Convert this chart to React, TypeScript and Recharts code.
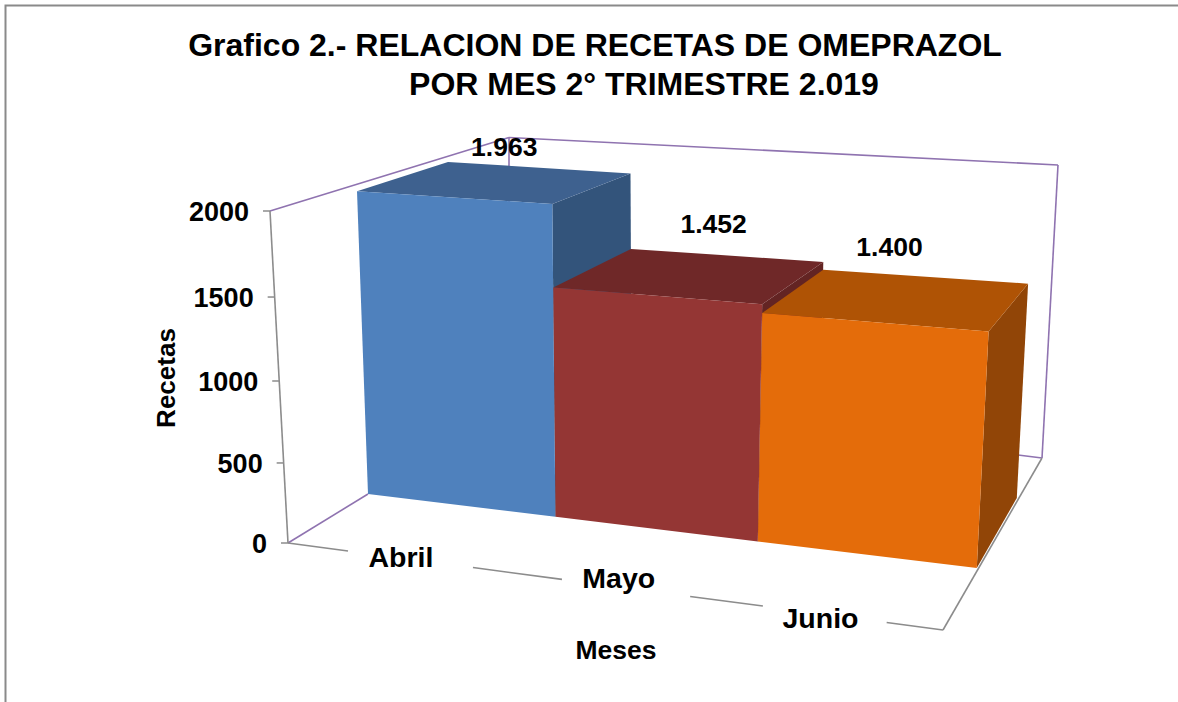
import React from "react";
import { BarChart, Bar, XAxis, YAxis, LabelList, Customized } from "recharts";

const months = ["Abril", "Mayo", "Junio"];
const recetas = [1963, 1452, 1400];
const yTicks = [0, 500, 1000, 1500, 2000];
const yMax = 2000;
const frontColors = ["#4F81BD", "#943634", "#E46C0A"];
const topColors = ["#3E618F", "#6F2828", "#AF5305"];
const sideColors = ["#33547B", "#632423", "#914507"];
const titleLines = ["Grafico 2.- RELACION DE RECETAS DE OMEPRAZOL", "POR MES 2° TRIMESTRE 2.019"];

const data = months.map((mes, i) => ({ mes, recetas: recetas[i] }));

const W = 1178;
const H = 702;
const AXIS = 1; // thickness reserved for each hidden-looking axis
const FONT = "'Liberation Sans', Arial, sans-serif";

type P = [number, number];

// Perspective map of the unit square (u right, v up) onto a quadrilateral
function homography(bl: P, br: P, tr: P, tl: P, ku: number, kv: number) {
  const [x0, y0] = bl, [x1, y1] = br, [x2, y2] = tr, [x3, y3] = tl;
  const dx1 = x1 - x2, dx2 = x3 - x2, dy1 = y1 - y2, dy2 = y3 - y2;
  const sx = x0 - x1 + x2 - x3, sy = y0 - y1 + y2 - y3;
  const det = dx1 * dy2 - dx2 * dy1;
  const g = (sx * dy2 - dx2 * sy) / det;
  const h = (dx1 * sy - sx * dy1) / det;
  const a = x1 - x0 + g * x1, b = x3 - x0 + h * x3;
  const d = y1 - y0 + g * y1, e = y3 - y0 + h * y3;
  return (u0: number, v0: number): P => {
    const u = u0 / (1 + ku * (1 - u0));
    const v = (v0 * (1 + kv)) / (1 + kv * v0);
    const q = g * u + h * v + 1;
    return [(a * u + b * v + x0) / q, (d * u + e * v + y0) / q];
  };
}

const frontPlane = homography([368, 494], [977, 568], [994, 226.5], [356.8, 185.3], 0.01, 0.01);
const backPlane = homography([457, 454], [1017, 498], [1033, 194], [447.8, 156.5], 0.07, 0.07);

const poly = (pts: P[]) => pts.map((p) => `${p[0].toFixed(1)},${p[1].toFixed(1)}`).join(" ");

const toU = (x: number) => (x - AXIS) / (W - AXIS);
const toV = (y: number) => 1 - y / (H - AXIS);

function Bar3D(props: any) {
  const { x, y, width, height, index } = props;
  const u0 = toU(x), u1 = toU(x + width);
  const v1 = toV(y), v0 = toV(y + height);
  const f = frontPlane, b = backPlane;
  return (
    <g>
      <polygon points={poly([f(u1, v0), b(u1, v0), b(u1, v1), f(u1, v1)])} fill={sideColors[index]} />
      <polygon points={poly([f(u0, v1), f(u1, v1), b(u1, v1), b(u0, v1)])} fill={topColors[index]} />
      <polygon points={poly([f(u0, v0), f(u1, v0), f(u1, v1), f(u0, v1)])} fill={frontColors[index]} />
    </g>
  );
}

// Left vertical axis edge of the box, with its own foreshortening
function leftEdge(t: number): P {
  const rise = (316.4 * t) / (1 - 0.047 * t);
  return [288 - (18 * rise) / 332, 543 - rise];
}

const renderYTick = (props: any) => {
  const { payload } = props;
  const [ex, ey] = leftEdge(payload.value / yMax);
  return (
    <g key={payload.value}>
      <line x1={ex - 7} y1={ey} x2={ex} y2={ey} stroke="#8C8C8C" strokeWidth={1.5} />
      <text x={ex - 21} y={ey + 10} textAnchor="end" fontFamily={FONT} fontWeight="bold" fontSize={27} fill="#000">
        {payload.value}
      </text>
    </g>
  );
};

const floorFL: P = [288, 543];
const floorFR: P = [943, 630];
const floorAt = (t: number): P => [
  floorFL[0] + (floorFR[0] - floorFL[0]) * t,
  floorFL[1] + (floorFR[1] - floorFL[1]) * t,
];
const tickCentres = [0.1725, 0.505, 0.813];
const tickDrop = [9, 1, 14];
const floorSegments: P[] = [[0, 0.0916], [0.2824, 0.4183], [0.614, 0.725], [0.914, 1]];

const renderXTick = (props: any) => {
  const { payload, index } = props;
  const [cx, cy] = floorAt(tickCentres[index]);
  return (
    <text key={payload.value} x={cx} y={cy + tickDrop[index]} textAnchor="middle" fontFamily={FONT} fontWeight="bold" fontSize={28.5} fill="#000">
      {payload.value}
    </text>
  );
};

const labelOffsets: P[] = [[9, -36], [23, -52], [-9, -52]];

function ValueLabel(props: any) {
  const { x, y, width, value, index } = props;
  const u = toU(x + width / 2);
  const v = toV(y);
  const a = frontPlane(u, v), b = backPlane(u, v);
  const [ox, oy] = labelOffsets[index];
  const text = String(value).replace(/(\d)(\d{3})$/, "$1.$2");
  return (
    <text
      x={(a[0] + b[0]) / 2 + ox}
      y={(a[1] + b[1]) / 2 + oy + 9}
      textAnchor="middle"
      fontFamily={FONT}
      fontWeight="bold"
      fontSize={26.5}
      fill="#000"
    >
      {text}
    </text>
  );
}

const PURPLE = "#8F73B0";
const GRAY = "#8C8C8C";

function Frame() {
  const seg = (a: P, b: P, c: string, w = 1.6, k?: any) => (
    <line key={k} x1={a[0]} y1={a[1]} x2={b[0]} y2={b[1]} stroke={c} strokeWidth={w} />
  );
  const backTL: P = [509, 137.5];
  const backTR: P = [1058, 165];
  const backBR: P = [1042, 458];
  const backBL: P = [368, 494];
  const wallTop = leftEdge(1);
  return (
    <g>
      <path d="M5.5,702 V5.5 H1178" fill="none" stroke="#8A8A8A" strokeWidth={2} />
      {seg(wallTop, backTL, PURPLE)}
      {seg(backTL, backTR, PURPLE)}
      {seg(backTR, backBR, PURPLE)}
      {seg(backTL, [509, 300], PURPLE)}
      {seg(floorFL, backBL, PURPLE)}
      {seg(backBR, [1018, 455], PURPLE)}
      {seg(wallTop, floorFL, GRAY)}
      {seg(backBR, floorFR, GRAY)}
      {floorSegments.map((s, i) => seg(floorAt(s[0]), floorAt(s[1]), GRAY, 1.6, i))}
      <text x={595} y={56} textAnchor="middle" fontFamily={FONT} fontWeight="bold" fontSize={32} fill="#000">
        {titleLines[0]}
      </text>
      <text x={644} y={95} textAnchor="middle" fontFamily={FONT} fontWeight="bold" fontSize={32} fill="#000">
        {titleLines[1]}
      </text>
      <text
        x={175}
        y={378}
        transform="rotate(-90 175 378)"
        textAnchor="middle"
        fontFamily={FONT}
        fontWeight="bold"
        fontSize={26}
        fill="#000"
      >
        Recetas
      </text>
      <text x={616} y={659} textAnchor="middle" fontFamily={FONT} fontWeight="bold" fontSize={26.5} fill="#000">
        Meses
      </text>
    </g>
  );
}

export default function App() {
  return (
    <div style={{ position: "absolute", left: 0, top: 0, width: W, height: H, background: "#fff", overflow: "hidden" }}>
      <BarChart
        width={W}
        height={H}
        data={data}
        margin={{ top: 0, right: 0, bottom: 0, left: 0 }}
        barCategoryGap={0}
      >
        <Customized component={Frame} />
        <XAxis dataKey="mes" height={AXIS} axisLine={false} tickLine={false} tick={renderXTick} interval={0} />
        <YAxis width={AXIS} domain={[0, yMax]} ticks={yTicks} axisLine={false} tickLine={false} tick={renderYTick} interval={0} />
        <Bar dataKey="recetas" shape={Bar3D} isAnimationActive={false}>
          <LabelList dataKey="recetas" content={ValueLabel} />
        </Bar>
      </BarChart>
    </div>
  );
}
